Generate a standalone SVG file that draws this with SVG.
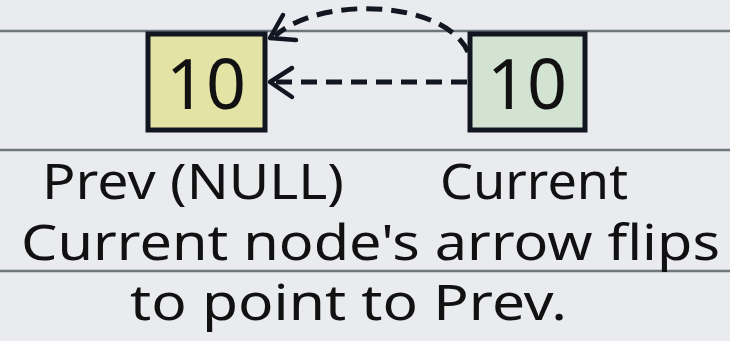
<svg xmlns="http://www.w3.org/2000/svg" width="730" height="341" viewBox="0 0 730 341">
<style>
.rule{stroke:#6f777d;stroke-width:2.5}
.box{stroke:#121620;stroke-width:5}
.num{font-family:"Noto Sans","DejaVu Sans",sans-serif;font-size:70px;fill:#111;text-anchor:middle}
.lbl{font-family:"Noto Sans","DejaVu Sans",sans-serif;font-size:50px;fill:#111}
.dash{fill:none;stroke:#121620;stroke-width:5;stroke-dasharray:16 9}
.head{fill:none;stroke:#121620;stroke-width:4.5;stroke-linecap:round;stroke-linejoin:round}
</style>
<rect width="730" height="341" fill="#e9ebef"/>
<line class="rule" x1="0" y1="31" x2="730" y2="31"/>
<line class="rule" x1="0" y1="150" x2="730" y2="150"/>
<line class="rule" x1="0" y1="271" x2="730" y2="271"/>
<g id="prev">
<rect class="box" x="148" y="34" width="117" height="96" fill="#e4e3a6"/>
<text class="num" x="206" y="109">10</text>
</g>
<g id="current">
<rect class="box" x="470" y="34" width="115" height="96" fill="#d3e3d1"/>
<text class="num" x="527" y="109">10</text>
</g>
<g id="connectors">
<path class="dash" d="M467,82 H276"/>
<path class="head" d="M292,68 L270,82 L292,97"/>
<path class="dash" d="M468,52 C445,0 320,-5 275,36"/>
<path class="head" d="M283,15 L270,38 L296,40"/>
</g>
<g id="labels">
<text class="lbl" x="42" y="199" textLength="302" lengthAdjust="spacingAndGlyphs">Prev (NULL)</text>
<text class="lbl" x="440" y="199" textLength="188" lengthAdjust="spacingAndGlyphs">Current</text>
<text class="lbl" x="21" y="260" textLength="699" lengthAdjust="spacingAndGlyphs">Current node's arrow flips</text>
<text class="lbl" x="130" y="320" textLength="437" lengthAdjust="spacingAndGlyphs">to point to Prev.</text>
</g>
</svg>
